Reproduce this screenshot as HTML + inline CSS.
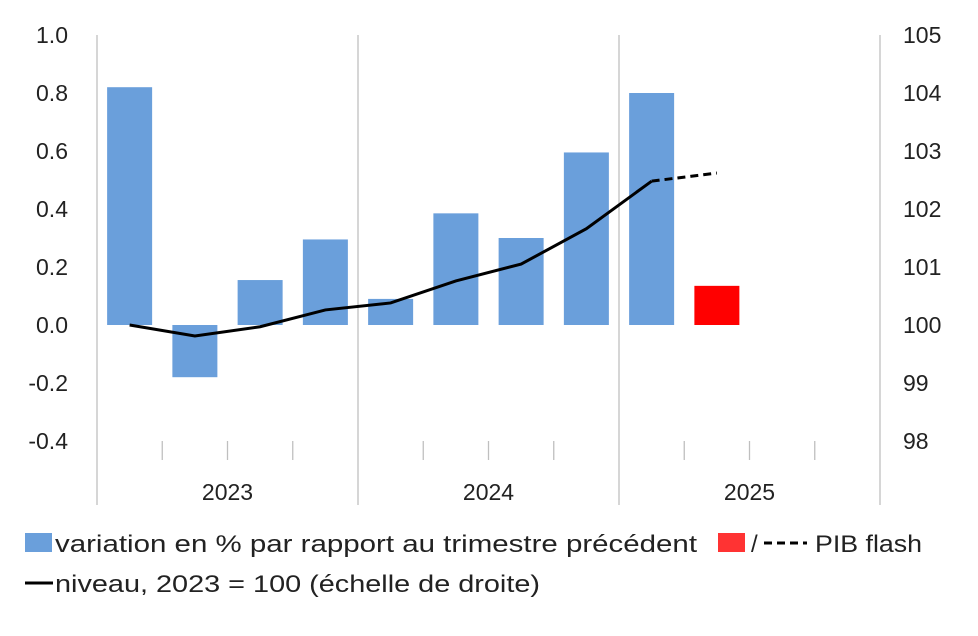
<!DOCTYPE html>
<html><head><meta charset="utf-8"><style>
body{margin:0;background:#fff;width:978px;height:631px;overflow:hidden}
text{font-family:"Liberation Sans",sans-serif;fill:#222}
</style></head><body>
<svg id="chart" width="978" height="631" xmlns="http://www.w3.org/2000/svg"></svg>
<script>
const categories=["T1 2023","T2 2023","T3 2023","T4 2023","T1 2024","T2 2024","T3 2024","T4 2024","T1 2025","T2 2025","T3 2025","T4 2025"];
const growth=[0.82,-0.18,0.155,0.295,0.09,0.385,0.30,0.595,0.80,0.135];
const flashIndex=[9];
const level=[100,99.81,99.97,100.26,100.38,100.76,101.05,101.66,102.48];
const levelFlash=[102.48,102.62];
const leftTicks=["1.0","0.8","0.6","0.4","0.2","0.0","-0.2","-0.4"];
const leftTickVals=[1,0.8,0.6,0.4,0.2,0,-0.2,-0.4];
const rightTicks=[105,104,103,102,101,100,99,98];
const years=["2023","2024","2025"];
const NS="http://www.w3.org/2000/svg";
const svg=document.getElementById('chart');
const X0=97,X1=880,step=(X1-X0)/12;
const yL=v=>325-v*290;
const yR=v=>325-(v-100)*58;
const xc=i=>X0+step*(i+0.5);
function el(t,a,txt){const e=document.createElementNS(NS,t);for(const k in a)e.setAttribute(k,a[k]);if(txt!=null)e.textContent=txt;svg.appendChild(e);return e;}
for(let i=0;i<=12;i++){const x=X0+step*i;const major=i%4==0;
 const l=el('line',{x1:x,x2:x,y1:major?35:441,y2:major?505:460,stroke:'#bfbfbf','stroke-width':1.3});
 }
leftTickVals.forEach((v,i)=>{const t=el('text',{x:68,y:yL(v)+8,'text-anchor':'end','font-size':23},leftTicks[i]);
 });
rightTicks.forEach(v=>{const t=el('text',{x:903,y:yR(v)+8,'font-size':23},String(v));
 });
years.forEach((y,i)=>{const t=el('text',{x:X0+step*(4*i+2),y:500,'text-anchor':'middle','font-size':23},y);
 });
growth.forEach((v,i)=>{const flash=flashIndex.includes(i);const y0=yL(0),y1=yL(v);
 const r=el('rect',{x:xc(i)-22.5,y:Math.min(y0,y1),width:45,height:Math.abs(y1-y0),fill:flash?'#ff0000':'#6a9fdb'});
 });
const pl=el('polyline',{points:level.map((v,i)=>xc(i)+','+yR(v)).join(' '),fill:'none',stroke:'#000','stroke-width':3});

const pd=el('polyline',{points:levelFlash.map((v,i)=>xc(8+i)+','+yR(v)).join(' '),fill:'none',stroke:'#000','stroke-width':3,'stroke-dasharray':'8,5'});

let g=el('rect',{x:25,y:533,width:27,height:19,fill:'#6a9fdb'});
let t=el('text',{x:55,y:552,'font-size':24,textLength:642,lengthAdjust:'spacingAndGlyphs'},'variation en % par rapport au trimestre précédent');
g=el('rect',{x:718,y:533,width:27,height:19,fill:'#ff3333'});
t=el('text',{x:751,y:552,'font-size':24},'/');
g=el('line',{x1:764,x2:807,y1:543,y2:543,stroke:'#000','stroke-width':3,'stroke-dasharray':'8,5'});
t=el('text',{x:815,y:552,'font-size':24,textLength:107,lengthAdjust:'spacingAndGlyphs'},'PIB flash');
g=el('line',{x1:25,x2:53,y1:583,y2:583,stroke:'#000','stroke-width':3});
t=el('text',{x:55,y:592,'font-size':24,textLength:485,lengthAdjust:'spacingAndGlyphs'},'niveau, 2023 = 100 (échelle de droite)');
</script>
</body></html>
